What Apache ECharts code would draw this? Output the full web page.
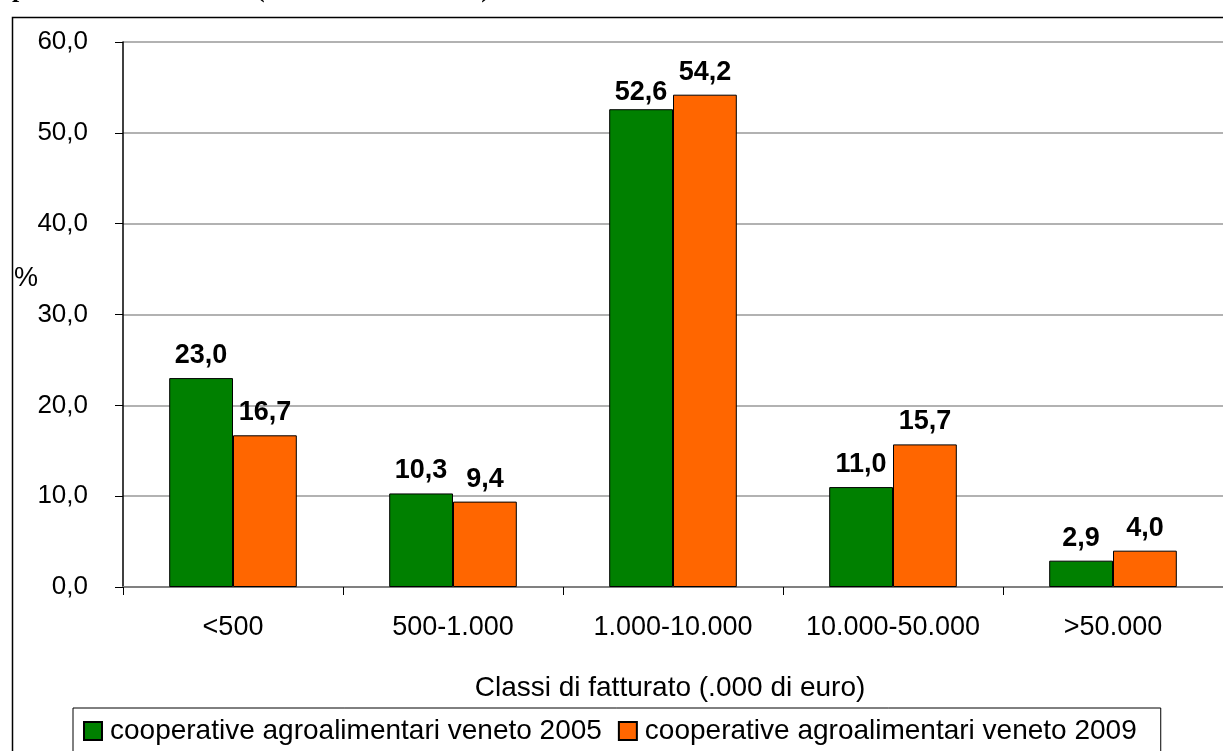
<!DOCTYPE html>
<html>
<head>
<meta charset="utf-8">
<script src="https://cdn.jsdelivr.net/npm/echarts@6/dist/echarts.min.js"></script>
<style>
html,body{margin:0;padding:0;background:#fff;}
#c{width:1223px;height:751px;}
</style>
</head>
<body>
<div id="c"></div>
<script>
var categories = ['<500', '500-1.000', '1.000-10.000', '10.000-50.000', '>50.000'];
var values2005 = [23.0, 10.3, 52.6, 11.0, 2.9];
var values2009 = [16.7, 9.4, 54.2, 15.7, 4.0];
var seriesNames = ['cooperative agroalimentari veneto 2005', 'cooperative agroalimentari veneto 2009'];
var yTicks = [0, 10, 20, 30, 40, 50, 60];
var titleText = 'Distribuzione delle cooperative per classi di fatturato (valori % 2005-2009)';
var xTitle = 'Classi di fatturato (.000 di euro)';
var yTitle = '%';

function fmt(v){ return Number(v).toFixed(1).replace('.', ','); }

var font = '"Liberation Sans", Arial, sans-serif';
var chart = echarts.init(document.getElementById('c'), null, {renderer:'canvas'});

var labelStyle = {
  show: true, position: 'top', distance: 9,
  fontFamily: font, fontSize: 27, fontWeight: 'bold', color: '#000',
  formatter: function(p){ return fmt(p.value); }
};

// the 52,6 label sits lower in the reference (moved to avoid the neighbour label)
var data2005 = values2005.map(function(v, i){
  return i === 2 ? {value: v, label: {distance: 3}} : v;
});

chart.setOption({
  animation: false,
  backgroundColor: '#fff',
  textStyle: {fontFamily: font},
  graphic: [
    {type:'rect', left:10, top:15, shape:{width:1300, height:800}, style:{fill:'none', stroke:'#000', lineWidth:1.5}, z:-1},
    {type:'text', x:490, y:3, style:{text:titleText, font:'bold 26px "Liberation Serif", "Times New Roman", serif', fill:'#000', align:'right', verticalAlign:'bottom'}},
    {type:'text', x:14, y:279, style:{text:yTitle, font:'27px "Liberation Sans", Arial, sans-serif', fill:'#000', align:'left', verticalAlign:'middle'}},
    {type:'text', x:670, y:688, style:{text:xTitle, font:'28px "Liberation Sans", Arial, sans-serif', fill:'#000', align:'center', verticalAlign:'middle'}}
  ],
  legend: {
    left: 73, top: 708,
    padding: [9, 24, 20, 10],
    itemWidth: 18, itemHeight: 18, itemGap: 16,
    borderColor: '#000', borderWidth: 1, backgroundColor: '#fff',
    icon: 'rect',
    textStyle: {fontFamily: font, fontSize: 28, color: '#000', padding:[0,0,0,3]},
    data: seriesNames
  },
  grid: {left: 123, top: 42, width: 1113, height: 545, containLabel: false},
  xAxis: {
    type: 'category', data: categories,
    axisLine: {show: true, lineStyle: {color: '#808080', width: 2}},
    axisTick: {show: true, length: 8, alignWithLabel: false, lineStyle: {color: '#000', width: 1}},
    axisLabel: {fontFamily: font, fontSize: 27, color: '#000', margin: 27, interval: 0},
    splitLine: {show: false}
  },
  yAxis: {
    type: 'value', min: 0, max: 60, interval: 10,
    axisLine: {show: true, lineStyle: {color: '#000', width: 1.5}},
    axisTick: {show: true, length: 8, lineStyle: {color: '#000'}},
    axisLabel: {fontFamily: font, fontSize: 26, color: '#000', margin: 35,
      formatter: function(v){ return yTicks.indexOf(v) >= 0 ? fmt(v) : ''; }},
    splitLine: {show: true, lineStyle: {color: '#999', width: 1.5}}
  },
  series: [
    {name: seriesNames[0], type: 'bar', data: data2005, barGap: '0%', barCategoryGap: '42%',
     itemStyle: {color: '#008000', borderColor: '#000', borderWidth: 1}, label: labelStyle},
    {name: seriesNames[1], type: 'bar', data: values2009,
     itemStyle: {color: '#FF6600', borderColor: '#000', borderWidth: 1}, label: labelStyle}
  ]
});
</script>
</body>
</html>
